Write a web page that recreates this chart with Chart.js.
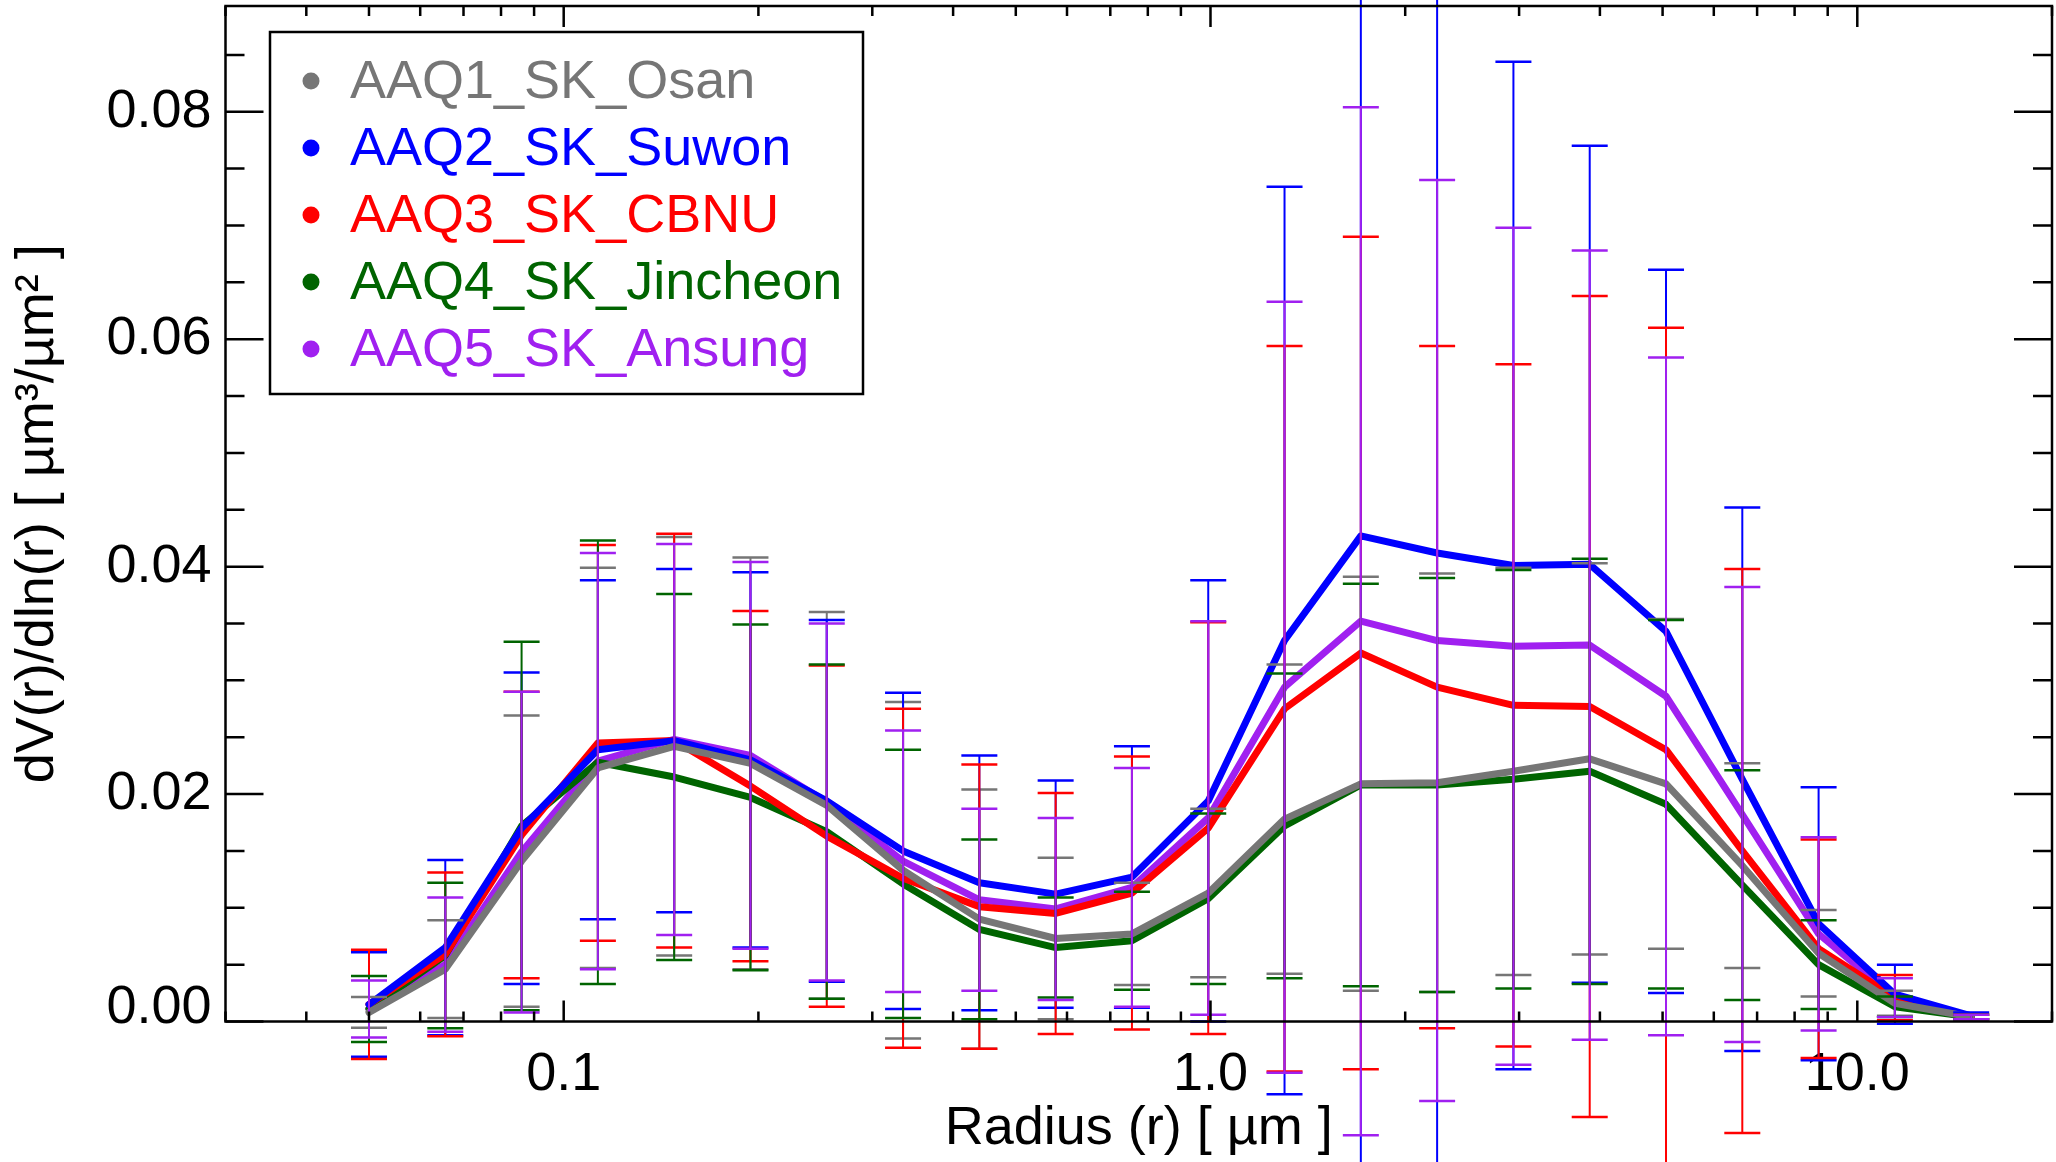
<!DOCTYPE html>
<html>
<head>
<meta charset="utf-8">
<script src="https://cdn.jsdelivr.net/npm/chart.js@4.4.1/dist/chart.umd.min.js"></script>
<style>
html,body{margin:0;padding:0;background:#ffffff;overflow:hidden}
#wrap{width:2056px;height:1162px;position:relative}
</style>
</head>
<body>
<div id="wrap"><canvas id="c" width="2056" height="1162"></canvas></div>
<script>
// ---------------- data ----------------
const radius = [0.05, 0.065604, 0.086077, 0.112939, 0.148184, 0.194429, 0.255105, 0.334716, 0.439173, 0.576227, 0.756052,
                0.991996, 1.301571, 1.707757, 2.240702, 2.939966, 3.857452, 5.06126, 6.640745, 8.713145, 11.432287, 15.0];

const seriesNames = ['AAQ1_SK_Osan', 'AAQ2_SK_Suwon', 'AAQ3_SK_CBNU', 'AAQ4_SK_Jincheon', 'AAQ5_SK_Ansung'];

const osanMean = [0.0008, 0.0046, 0.0141, 0.0223, 0.0242, 0.0227, 0.0190, 0.0133, 0.0090, 0.0073, 0.0077,
                  0.0113, 0.0178, 0.0209, 0.0210, 0.0220, 0.0231, 0.0209, 0.0137, 0.0060, 0.0016, 0.0004];
const osanSd   = [0.00135, 0.0043, 0.0128, 0.0176, 0.0184, 0.0181, 0.0170, 0.0148, 0.0114, 0.0071, 0.0045,
                  0.0074, 0.0136, 0.0182, 0.0184, 0.0179, 0.0172, 0.0145, 0.0090, 0.0038, 0.0011, 0.0002];

const suwonMean = [0.0015, 0.0065, 0.0170, 0.0239, 0.0247, 0.0230, 0.0194, 0.0150, 0.0122, 0.0112, 0.0127,
                   0.0194, 0.0335, 0.0427, 0.0412, 0.0401, 0.0402, 0.0343, 0.0213, 0.0086, 0.0024, 0.0005];
const suwonSd   = [0.0046, 0.0077, 0.0137, 0.0149, 0.0151, 0.0165, 0.0159, 0.0139, 0.0112, 0.0100, 0.0115,
                   0.0194, 0.0399, 0.0600, 0.0580, 0.0443, 0.0368, 0.0318, 0.0239, 0.0120, 0.0026, 0.0003];

const cbnuMean = [0.0015, 0.0059, 0.0164, 0.0245, 0.0247, 0.0207, 0.0163, 0.0126, 0.0101, 0.0095, 0.0113,
                  0.0170, 0.0275, 0.0324, 0.0294, 0.0278, 0.0277, 0.0239, 0.0150, 0.0064, 0.0021, 0.0004];
const cbnuSd   = [0.0048, 0.0072, 0.0126, 0.0174, 0.0182, 0.0154, 0.0150, 0.0149, 0.0125, 0.0106, 0.0120,
                  0.0181, 0.0319, 0.0366, 0.0300, 0.0300, 0.0361, 0.0371, 0.0248, 0.0096, 0.0020, 0.0002];

const jincheonMean = [0.0011, 0.0058, 0.0172, 0.0228, 0.0215, 0.0197, 0.0167, 0.0121, 0.0081, 0.0065, 0.0071,
                      0.0108, 0.0172, 0.0208, 0.0208, 0.0213, 0.0220, 0.0191, 0.0120, 0.0050, 0.0013, 0.0004];
const jincheonSd   = [0.0029, 0.0064, 0.0162, 0.0195, 0.0161, 0.0152, 0.0147, 0.0118, 0.0079, 0.0044, 0.0043,
                      0.0075, 0.0134, 0.0177, 0.0182, 0.0184, 0.0187, 0.0162, 0.0101, 0.0039, 0.0009, 0.0002];

const ansungMean = [0.0011, 0.0050, 0.0149, 0.0229, 0.0248, 0.0234, 0.0193, 0.0141, 0.0107, 0.0099, 0.0118,
                    0.0179, 0.0294, 0.0352, 0.0335, 0.0330, 0.0331, 0.0286, 0.0182, 0.0077, 0.0021, 0.0004];
const ansungSd   = [0.0025, 0.0059, 0.0141, 0.0183, 0.0172, 0.0170, 0.0157, 0.0115, 0.0080, 0.0080, 0.0105,
                    0.0173, 0.0339, 0.0452, 0.0405, 0.0368, 0.0347, 0.0298, 0.0200, 0.0085, 0.0017, 0.0002];

const xTickValues = [0.1, 1, 10];
const xTickLabels = ['0.1', '1.0', '10.0'];
const xMinorValues = [0.03, 0.04, 0.05, 0.06, 0.07, 0.08, 0.09, 0.2, 0.3, 0.4, 0.5, 0.6, 0.7, 0.8, 0.9,
                      2, 3, 4, 5, 6, 7, 8, 9, 20];
const yTickValues = [0, 0.02, 0.04, 0.06, 0.08];
const yTickLabels = ['0.00', '0.02', '0.04', '0.06', '0.08'];
const yMinorValues = [0.005, 0.01, 0.015, 0.025, 0.03, 0.035, 0.045, 0.05, 0.055, 0.065, 0.07, 0.075, 0.085];

const xTitle = 'Radius (r) [ µm ]';
const yTitle = 'dV(r)/dln(r) [ µm³/µm² ]';

// ---------------- styles ----------------
const colors = ['#767676', '#0000ff', '#ff0000', '#006400', '#a020f0'];
const FONT = '"Liberation Sans", Arial, Helvetica, sans-serif';
const means = [osanMean, suwonMean, cbnuMean, jincheonMean, ansungMean];
const sds = [osanSd, suwonSd, cbnuSd, jincheonSd, ansungSd];

const datasets = seriesNames.map((name, k) => ({
  label: name,
  data: radius.map((r, i) => ({x: r, y: means[k][i]})),
  borderColor: colors[k],
  backgroundColor: colors[k],
  borderWidth: 7,
  pointRadius: 0,
  tension: 0,
  fill: false,
  borderJoinStyle: 'round',
  borderCapStyle: 'round',
  sd: sds[k]
}));

const errorBarPlugin = {
  id: 'errorBars',
  afterDatasetsDraw(chart) {
    const {ctx, scales: {x, y}} = chart;
    ctx.save();
    chart.data.datasets.forEach((ds) => {
      ctx.strokeStyle = ds.borderColor;
      ds.data.forEach((p, i) => {
        const px = x.getPixelForValue(p.x);
        const yt = y.getPixelForValue(p.y + ds.sd[i]);
        const yb = y.getPixelForValue(p.y - ds.sd[i]);
        ctx.lineWidth = 2;
        ctx.beginPath();
        ctx.moveTo(px, yt); ctx.lineTo(px, yb);
        ctx.stroke();
        ctx.lineWidth = 2.5;
        ctx.beginPath();
        ctx.moveTo(px - 18, yt); ctx.lineTo(px + 18, yt);
        ctx.moveTo(px - 18, yb); ctx.lineTo(px + 18, yb);
        ctx.stroke();
      });
    });
    ctx.restore();
  }
};

const framePlugin = {
  id: 'frame',
  afterDraw(chart) {
    const {ctx, chartArea: a, scales: {x, y}} = chart;
    ctx.save();
    ctx.strokeStyle = '#000';
    ctx.lineWidth = 2.5;
    ctx.strokeRect(a.left, a.top, a.right - a.left, a.bottom - a.top);
    ctx.beginPath();
    const xt = (v, len) => {
      const px = x.getPixelForValue(v);
      ctx.moveTo(px, a.bottom); ctx.lineTo(px, a.bottom - len);
      ctx.moveTo(px, a.top); ctx.lineTo(px, a.top + len);
    };
    const yt = (v, len) => {
      const py = y.getPixelForValue(v);
      ctx.moveTo(a.left, py); ctx.lineTo(a.left + len, py);
      ctx.moveTo(a.right, py); ctx.lineTo(a.right - len, py);
    };
    xTickValues.forEach(v => xt(v, 21));
    xMinorValues.forEach(v => xt(v, 10));
    yTickValues.forEach(v => yt(v, 38));
    yMinorValues.forEach(v => yt(v, 19));
    ctx.stroke();
    ctx.restore();
  }
};

const legendPlugin = {
  id: 'boxLegend',
  afterDraw(chart) {
    const {ctx} = chart;
    ctx.save();
    const bx = 270, by = 32, bw = 593, bh = 362;
    ctx.fillStyle = '#fff';
    ctx.fillRect(bx, by, bw, bh);
    ctx.strokeStyle = '#000';
    ctx.lineWidth = 2.5;
    ctx.strokeRect(bx, by, bw, bh);
    ctx.font = '54px ' + FONT;
    ctx.textBaseline = 'middle';
    ctx.textAlign = 'left';
    seriesNames.forEach((name, k) => {
      const cy = 81 + k * 67;
      ctx.fillStyle = colors[k];
      ctx.beginPath();
      ctx.arc(311, cy, 8.5, 0, Math.PI * 2);
      ctx.fill();
      ctx.fillText(name, 350, cy + 2);
    });
    ctx.restore();
  }
};

new Chart(document.getElementById('c'), {
  type: 'line',
  data: {datasets},
  options: {
    responsive: false,
    animation: false,
    devicePixelRatio: 1,
    layout: {padding: {top: 6, right: 4, left: 0, bottom: 0}},
    plugins: {legend: {display: false}, tooltip: {enabled: false}},
    scales: {
      x: {
        type: 'logarithmic',
        min: 0.03, max: 20,
        afterBuildTicks: s => { s.ticks = xTickValues.map(v => ({value: v, major: true})); },
        afterFit: s => { s.height = 140.5; s.paddingLeft = 0; s.paddingRight = 0; },
        ticks: {
          autoSkip: false, maxRotation: 0, minRotation: 0, padding: 21, color: '#000',
          font: {family: FONT, size: 54},
          callback: (v) => { const i = xTickValues.findIndex(t => Math.abs(t - v) < 1e-9); return i >= 0 ? xTickLabels[i] : ''; }
        },
        grid: {display: false, drawTicks: false},
        border: {display: false},
        title: {display: true, text: xTitle, color: '#000', font: {family: FONT, size: 54}, padding: {top: 0, bottom: 0}}
      },
      y: {
        type: 'linear',
        min: 0, max: 0.0893,
        afterBuildTicks: s => { s.ticks = yTickValues.map(v => ({value: v})); },
        afterFit: s => { s.width = 225.5; s.paddingTop = 0; s.paddingBottom = 0; },
        ticks: {
          padding: 14, color: '#000',
          font: {family: FONT, size: 54, lineHeight: 0.5},
          callback: (v) => {
            const i = yTickValues.findIndex(t => Math.abs(t - v) < 1e-9);
            if (i < 0) return '';
            return i === 0 ? [yTickLabels[i], ' '] : yTickLabels[i];
          }
        },
        grid: {display: false, drawTicks: false},
        border: {display: false},
        title: {display: true, text: yTitle, color: '#000', font: {family: FONT, size: 54}, padding: {top: 6, bottom: 0}}
      }
    }
  },
  plugins: [errorBarPlugin, framePlugin, legendPlugin]
});
</script>
</body>
</html>
